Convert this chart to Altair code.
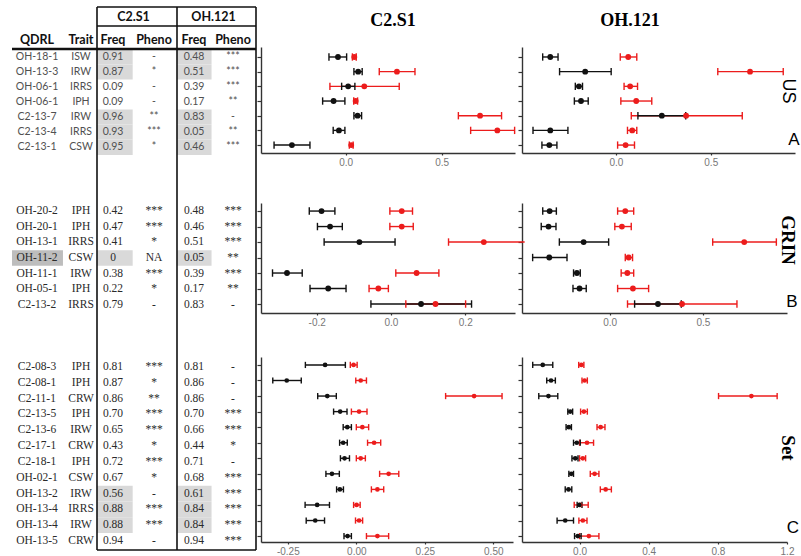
import altair as alt
import pandas as pd

# ---------------- table values ----------------
qdrl_us = ["OH-18-1", "OH-13-3", "OH-06-1", "OH-06-1", "C2-13-7", "C2-13-4", "C2-13-1"]
trait_us = ["ISW", "IRW", "IRRS", "IPH", "IRW", "IRRS", "CSW"]
freq_c2_us = ["0.91", "0.87", "0.09", "0.09", "0.96", "0.93", "0.95"]
pheno_c2_us = ["-", "*", "-", "-", "**", "***", "*"]
freq_oh_us = ["0.48", "0.51", "0.39", "0.17", "0.83", "0.05", "0.46"]
pheno_oh_us = ["***", "***", "***", "**", "-", "**", "***"]
shade_us = [1, 1, 0, 0, 1, 1, 1]
dark_us = [0, 0, 0, 0, 0, 0, 0]

qdrl_grin = ["OH-20-2", "OH-20-1", "OH-13-1", "OH-11-2", "OH-11-1", "OH-05-1", "C2-13-2"]
trait_grin = ["IPH", "IPH", "IRRS", "CSW", "IRW", "IPH", "IRRS"]
freq_c2_grin = ["0.42", "0.47", "0.41", "0", "0.38", "0.22", "0.79"]
pheno_c2_grin = ["***", "***", "*", "NA", "***", "*", "-"]
freq_oh_grin = ["0.48", "0.46", "0.51", "0.05", "0.39", "0.17", "0.83"]
pheno_oh_grin = ["***", "***", "***", "**", "***", "**", "-"]
shade_grin = [0, 0, 0, 1, 0, 0, 0]
dark_grin = [0, 0, 0, 1, 0, 0, 0]

qdrl_set = ["C2-08-3", "C2-08-1", "C2-11-1", "C2-13-5", "C2-13-6", "C2-17-1",
            "C2-18-1", "OH-02-1", "OH-13-2", "OH-13-4", "OH-13-4", "OH-13-5"]
trait_set = ["IPH", "IPH", "CRW", "IPH", "IRW", "CRW", "IPH", "CSW", "IRW", "IRRS", "IRW", "CRW"]
freq_c2_set = ["0.81", "0.87", "0.86", "0.70", "0.65", "0.43", "0.72", "0.67", "0.56", "0.88", "0.88", "0.94"]
pheno_c2_set = ["***", "*", "**", "***", "***", "*", "***", "*", "-", "***", "***", "-"]
freq_oh_set = ["0.81", "0.86", "0.86", "0.70", "0.66", "0.44", "0.71", "0.68", "0.61", "0.84", "0.84", "0.94"]
pheno_oh_set = ["-", "-", "-", "***", "***", "*", "-", "***", "***", "***", "***", "***"]
shade_set = [0, 0, 0, 0, 0, 0, 0, 0, 1, 1, 1, 0]
dark_set = [0] * 12

# ---------------- effect estimates (black / red series) ----------------
# C2.S1 - US
c2_us_blk = [-0.040, 0.065, 0.013, -0.063, 0.062, -0.035, -0.280]
c2_us_blk_lo = [-0.087, 0.043, -0.021, -0.120, 0.043, -0.065, -0.373]
c2_us_blk_hi = [0.005, 0.086, 0.048, -0.004, 0.083, -0.004, -0.186]
c2_us_red = [0.045, 0.267, 0.097, 0.052, 0.700, 0.790, 0.029]
c2_us_red_lo = [0.035, 0.175, -0.082, 0.042, 0.587, 0.651, 0.019]
c2_us_red_hi = [0.055, 0.361, 0.279, 0.062, 0.812, 0.880, 0.039]
# OH.121 - US
oh_us_blk = [-0.346, -0.162, -0.195, -0.184, 0.242, -0.346, -0.351]
oh_us_blk_lo = [-0.386, -0.297, -0.214, -0.219, 0.116, -0.437, -0.390]
oh_us_blk_hi = [-0.305, -0.025, -0.176, -0.146, 0.368, -0.253, -0.311]
oh_us_red = [0.065, 0.707, 0.075, 0.107, 0.370, 0.086, 0.051]
oh_us_red_lo = [0.023, 0.537, 0.043, 0.026, 0.081, 0.061, 0.009]
oh_us_red_hi = [0.110, 0.882, 0.114, 0.189, 0.666, 0.110, 0.098]
# C2.S1 - GRIN
c2_grin_blk = [-0.187, -0.164, -0.085, None, -0.280, -0.169, 0.081]
c2_grin_blk_lo = [-0.220, -0.198, -0.180, None, -0.319, -0.218, -0.054]
c2_grin_blk_hi = [-0.151, -0.131, 0.011, None, -0.239, -0.121, 0.217]
c2_grin_red = [0.029, 0.029, 0.250, None, 0.069, -0.034, 0.120]
c2_grin_red_lo = [-0.003, -0.003, 0.155, None, 0.013, -0.059, 0.040]
c2_grin_red_hi = [0.058, 0.060, 0.360, None, 0.129, -0.007, 0.201]
# OH.121 - GRIN
oh_grin_blk = [-0.321, -0.327, -0.139, -0.323, -0.175, -0.161, 0.259]
oh_grin_blk_lo = [-0.358, -0.366, -0.269, -0.412, -0.193, -0.196, 0.134]
oh_grin_blk_hi = [-0.285, -0.287, -0.005, -0.228, -0.157, -0.125, 0.384]
oh_grin_red = [0.084, 0.066, 0.721, 0.102, 0.095, 0.125, 0.388]
oh_grin_red_lo = [0.043, 0.028, 0.552, 0.084, 0.062, 0.043, 0.096]
oh_grin_red_hi = [0.129, 0.116, 0.893, 0.123, 0.129, 0.209, 0.682]
# C2.S1 - Set
c2_set_blk = [-0.114, -0.254, -0.106, -0.059, -0.033, -0.048, -0.043, -0.089, -0.060, -0.143, -0.150, -0.032]
c2_set_blk_lo = [-0.186, -0.305, -0.141, -0.083, -0.048, -0.061, -0.058, -0.111, -0.072, -0.187, -0.183, -0.045]
c2_set_blk_hi = [-0.040, -0.201, -0.073, -0.034, -0.018, -0.033, -0.025, -0.062, -0.047, -0.098, -0.116, -0.018]
c2_set_red = [-0.010, 0.016, 0.430, 0.010, 0.022, 0.065, 0.016, 0.118, 0.077, 0.001, 0.010, 0.077]
c2_set_red_lo = [-0.022, -0.002, 0.326, -0.018, 0.000, 0.041, 0.000, 0.085, 0.055, -0.010, -0.003, 0.037]
c2_set_red_hi = [0.003, 0.037, 0.532, 0.039, 0.045, 0.089, 0.033, 0.155, 0.100, 0.014, 0.023, 0.118]
# OH.121 - Set
oh_set_blk = [-0.213, -0.165, -0.180, -0.054, -0.062, -0.016, -0.025, -0.048, -0.064, -0.001, -0.083, -0.010]
oh_set_blk_lo = [-0.271, -0.190, -0.236, -0.068, -0.078, -0.035, -0.044, -0.062, -0.083, -0.014, -0.130, -0.029]
oh_set_blk_hi = [-0.155, -0.140, -0.126, -0.040, -0.047, 0.004, -0.009, -0.035, -0.045, 0.014, -0.035, 0.009]
oh_set_red = [0.010, 0.029, 0.994, 0.025, 0.122, 0.043, 0.019, 0.087, 0.151, 0.004, 0.019, 0.054]
oh_set_red_lo = [-0.005, 0.014, 0.804, 0.006, 0.101, 0.000, 0.000, 0.062, 0.120, -0.031, -0.004, 0.000]
oh_set_red_hi = [0.025, 0.045, 1.143, 0.045, 0.147, 0.081, 0.035, 0.112, 0.184, 0.050, 0.043, 0.112]

col_titles = ["C2.S1", "OH.121"]
row_titles = ["US", "GRIN", "Set"]
panel_letters = ["A", "B", "C"]
col_headers = ["QDRL", "Trait", "Freq", "Pheno", "Freq", "Pheno"]

# ---------------- layout ----------------
W, H = 801, 556
RED = "#ec1c1c"
BLACK = "#111111"

TX = alt.Scale(domain=[-0.5, 0, 1, 1.5, 2, 3, 3.5, 4, 5, 5.5],
               range=[12, 37, 81, 97, 113, 154, 177, 194, 233, 256], nice=False, zero=False)
TY = alt.Scale(domain=[-2.5, -2, -1.5, -1, -0.5, 0, 6, 6.5, 7, 13, 13.5, 14, 25, 25.5],
               range=[7, 17, 26, 40, 49, 57, 147, 155, 211, 305, 313, 367, 541, 550], nice=False, zero=False)

groups = [
    (qdrl_us, trait_us, freq_c2_us, pheno_c2_us, freq_oh_us, pheno_oh_us, shade_us, dark_us, 0, "sans"),
    (qdrl_grin, trait_grin, freq_c2_grin, pheno_c2_grin, freq_oh_grin, pheno_oh_grin, shade_grin, dark_grin, 7, "serif"),
    (qdrl_set, trait_set, freq_c2_set, pheno_c2_set, freq_oh_set, pheno_oh_set, shade_set, dark_set, 14, "serif"),
]

body, shades = [], []
for q, t, f1, p1, f2, p2, sh, dk, start, style in groups:
    for i in range(len(q)):
        s = start + i
        for c, txt in enumerate([q[i], t[i], f1[i], p1[i], f2[i], p2[i]]):
            body.append({"text": txt, "col": c, "slot": s, "style": style})
        if sh[i]:
            shades.append({"x1": 1.5, "x2": 2.48, "y1": s - 0.5, "y2": s + 0.5, "tone": "light"})
            shades.append({"x1": 3.5, "x2": 4.45, "y1": s - 0.5, "y2": s + 0.5, "tone": "light"})
        if dk[i]:
            shades.append({"x1": -0.5, "x2": 0.59, "y1": s - 0.5, "y2": s + 0.5, "tone": "dark"})
body = pd.DataFrame(body)
shades = pd.DataFrame(shades)

header = pd.DataFrame(
    [{"text": col_titles[0], "col": 2.5, "slot": -2}, {"text": col_titles[1], "col": 4.5, "slot": -2}]
    + [{"text": h, "col": i, "slot": -1} for i, h in enumerate(col_headers)])

thin_lines = pd.DataFrame([
    {"x1": 1.5, "x2": 1.5, "y1": -2.5, "y2": 25.5},
    {"x1": 3.5, "x2": 3.5, "y1": -2.5, "y2": 25.5},
    {"x1": 5.5, "x2": 5.5, "y1": -2.5, "y2": 25.5},
    {"x1": 1.5, "x2": 5.5, "y1": -2.5, "y2": -2.5},
    {"x1": 1.5, "x2": 5.5, "y1": -1.5, "y2": -1.5},
    {"x1": 1.5, "x2": 5.5, "y1": 25.5, "y2": 25.5},
])
thick_lines = pd.DataFrame([{"x1": -0.5, "x2": 5.5, "y1": -0.5, "y2": -0.5}])


def tx(f):
    return alt.X(f, type="quantitative", scale=TX, axis=None)


def ty(f):
    return alt.Y(f, type="quantitative", scale=TY, axis=None)


shade_layer = alt.Chart(shades).mark_rect().encode(
    x=tx("x1"), x2="x2", y=ty("y1"), y2="y2",
    color=alt.Color("tone:N", scale=alt.Scale(domain=["light", "dark"], range=["#d9d9d9", "#bdbdbd"]), legend=None))
thin_layer = alt.Chart(thin_lines).mark_rule(color="#111", strokeWidth=1.6).encode(
    x=tx("x1"), x2="x2", y=ty("y1"), y2="y2")
thick_layer = alt.Chart(thick_lines).mark_rule(color="#111", strokeWidth=2.6).encode(
    x=tx("x1"), x2="x2", y=ty("y1"), y2="y2")
head_layer = alt.Chart(header).mark_text(font="Lato", fontWeight="bold", fontSize=12.5, color="#111").encode(
    x=tx("col"), y=ty("slot"), text="text:N")
sans_layer = alt.Chart(body).transform_filter("datum.style == 'sans'").mark_text(
    font="Lato", fontSize=10.5, color="#505050").encode(x=tx("col"), y=ty("slot"), text="text:N")
serif_layer = alt.Chart(body).transform_filter("datum.style == 'serif'").mark_text(
    font="Liberation Serif", fontSize=11.5, color="#2a2a2a").encode(x=tx("col"), y=ty("slot"), text="text:N")
table = alt.layer(shade_layer, thin_layer, thick_layer, head_layer, sans_layer, serif_layer)


def panel(blk, blk_lo, blk_hi, red, red_lo, red_hi, xdom, xrng, ydom, yrng, xvals, xfmt, pt, cap):
    n = len(blk)
    recs = []
    for s, E, L, U in (("red", red, red_lo, red_hi), ("black", blk, blk_lo, blk_hi)):
        for i in range(n):
            if E[i] is None:
                continue
            recs.append({"row": i, "series": s, "est": E[i], "lo": L[i], "hi": U[i]})
    df = pd.DataFrame(recs)
    xs = alt.Scale(domain=xdom, range=xrng, nice=False, zero=False)
    ys = alt.Scale(domain=ydom, range=yrng, nice=False, zero=False)
    cs = alt.Scale(domain=["red", "black"], range=[RED, BLACK])
    xa = alt.Axis(orient="bottom", offset=yrng[1] - H, values=xvals, format=xfmt,
                  labelExpr="replace(datum.label, '\u2212', '-')", title=None, grid=False,
                  labelFlush=False, tickSize=2, labelPadding=2)
    ya = alt.Axis(orient="left", offset=-xrng[0], values=list(range(n)), labels=False,
                  title=None, grid=False, tickSize=4)

    def X(f):
        return alt.X(f, type="quantitative", scale=xs, axis=xa)

    def Y(f):
        return alt.Y(f, type="quantitative", scale=ys, axis=ya)

    C = alt.Color("series:N", scale=cs, legend=None)
    base = alt.Chart(df)
    bars = base.mark_rule(strokeWidth=1.4).encode(x=X("lo"), x2="hi", y=Y("row"), color=C)
    caps = (base.transform_fold(["lo", "hi"], as_=["end", "xv"])
            .transform_filter(f"datum.xv >= {xdom[0]} && datum.xv <= {xdom[1]}")
            .transform_calculate(ya=f"datum.row - {cap}", yb=f"datum.row + {cap}")
            .mark_rule(strokeWidth=1.4).encode(x=X("xv"), y=Y("ya"), y2="yb", color=C))
    pts = base.mark_circle(size=pt, opacity=1).encode(x=X("est"), y=Y("row"), color=C)
    return alt.layer(bars, caps, pts)


YA = ([-0.68, 6.54], [47, 153])
YB = ([-0.52, 6.58], [203, 313])
YC = ([-0.51, 11.38], [357, 542])

pA1 = panel(c2_us_blk, c2_us_blk_lo, c2_us_blk_hi, c2_us_red, c2_us_red_lo, c2_us_red_hi,
            [-0.441, 0.882], [261, 515], YA[0], YA[1], [0, 0.5], ".1f", 34, 0.25)
pA2 = panel(oh_us_blk, oh_us_blk_lo, oh_us_blk_hi, oh_us_red, oh_us_red_lo, oh_us_red_hi,
            [-0.495, 0.944], [522, 795], YA[0], YA[1], [0, 0.5], ".1f", 34, 0.25)
pB1 = panel(c2_grin_blk, c2_grin_blk_lo, c2_grin_blk_hi, c2_grin_red, c2_grin_red_lo, c2_grin_red_hi,
            [-0.350, 0.334], [261, 515], YB[0], YB[1], [-0.2, 0, 0.2], ".1f", 34, 0.24)
pB2 = panel(oh_grin_blk, oh_grin_blk_lo, oh_grin_blk_hi, oh_grin_red, oh_grin_red_lo, oh_grin_red_hi,
            [-0.469, 0.950], [522, 787], YB[0], YB[1], [0, 0.5], ".1f", 34, 0.24)
pC1 = panel(c2_set_blk, c2_set_blk_lo, c2_set_blk_hi, c2_set_red, c2_set_red_lo, c2_set_red_hi,
            [-0.348, 0.572], [261, 513], YC[0], YC[1], [-0.25, 0, 0.25, 0.5], ".2f", 22, 0.2)
pC2 = panel(oh_set_blk, oh_set_blk_lo, oh_set_blk_hi, oh_set_red, oh_set_red_lo, oh_set_red_hi,
            [-0.333, 1.2], [522, 787], YC[0], YC[1], [0, 0.4, 0.8, 1.2], ".1f", 22, 0.2)

one = pd.DataFrame({"k": [0]})


def label(text, x, y, **kw):
    return alt.Chart(one).mark_text(text=text, **kw).encode(x=alt.value(x), y=alt.value(y))


annot = alt.layer(
    label(col_titles[0], 393, 21, font="Liberation Serif", fontWeight="bold", fontSize=18, baseline="middle"),
    label(col_titles[1], 630, 21, font="Liberation Serif", fontWeight="bold", fontSize=18, baseline="middle"),
    label(row_titles[0], 788, 91, font="Liberation Sans", fontSize=18, angle=90, baseline="middle"),
    label(row_titles[1], 788, 240, font="Liberation Serif", fontWeight="bold", fontSize=19, angle=90, baseline="middle"),
    label(row_titles[2], 788, 448, font="Liberation Serif", fontWeight="bold", fontSize=19, angle=90, baseline="middle"),
    label(panel_letters[0], 794, 149, font="Liberation Sans", fontSize=17, baseline="bottom"),
    label(panel_letters[1], 792, 311, font="Liberation Sans", fontSize=17, baseline="bottom"),
    label(panel_letters[2], 793, 537, font="Liberation Sans", fontSize=17, baseline="bottom"),
)

chart = (
    alt.layer(table, pA1, pA2, pB1, pB2, pC1, pC2, annot)
    .resolve_scale(x="independent", y="independent", color="independent")
    .resolve_axis(x="independent", y="independent")
    .properties(width=W, height=H, autosize=alt.AutoSizeParams(type="none"), padding=0, background="white")
    .configure_view(stroke=None)
    .configure_axis(domainColor="#333333", tickColor="#333333", domainWidth=1.4, tickWidth=1.2,
                    labelColor="#777777", labelFont="Liberation Sans", labelFontSize=10)
)

chart.save("out.html", embed_options={"renderer": "svg", "actions": False})
